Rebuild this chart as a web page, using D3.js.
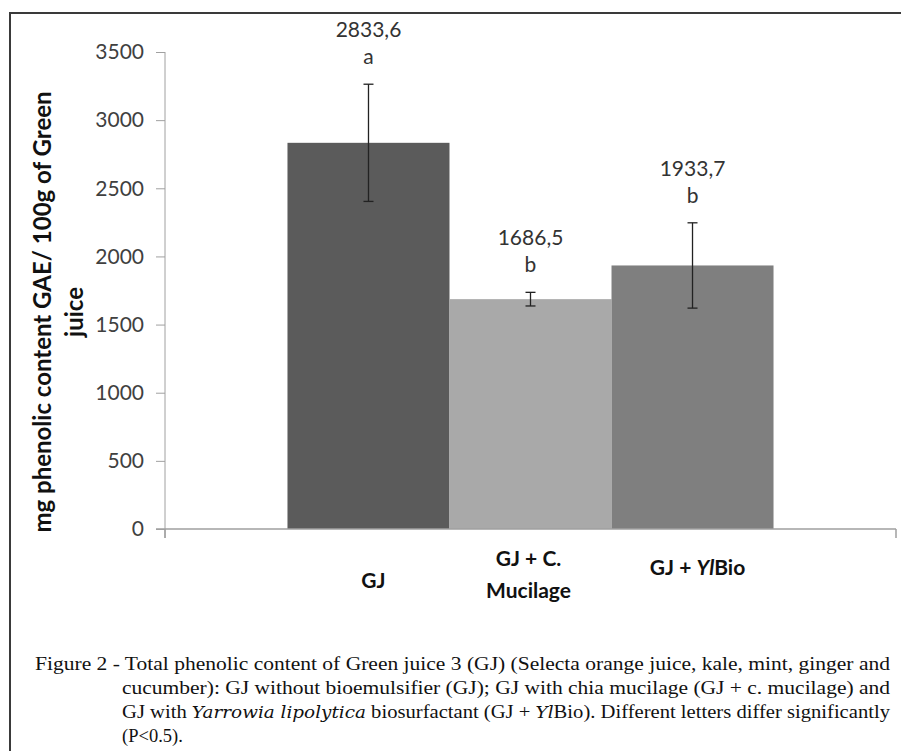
<!DOCTYPE html>
<html>
<head>
<meta charset="utf-8">
<script src="https://cdn.jsdelivr.net/npm/d3@7"></script>
<style>
  body { margin: 0; background: #fff; }
  svg { display: block; }
  .serif { font-family: "Liberation Serif", "Times New Roman", Times, serif; }
  .serif .it { font-family: "DejaVu Serif", "Liberation Serif", serif; font-style: italic; font-size: 16.5px; }
</style>
</head>
<body>
<div id="chart"></div>
<script>
// ---- data ----
const categories = ["GJ", "GJ + C. Mucilage", "GJ + YlBio"]
const values = [2833.6, 1686.5, 1933.7]
const errors = [430, 50, 313]
const letters = ["a", "b", "b"]
const valueLabels = ["2833,6", "1686,5", "1933,7"]
const yTicks = [0, 500, 1000, 1500, 2000, 2500, 3000, 3500]
const barColors = ["#5b5b5b", "#a9a9a9", "#7f7f7f"]

const width = 901, height = 751

const svg = d3.select("#chart")
  .append("svg")
    .attr("width", width)
    .attr("height", height)

// frame (only top and left edges show in the crop)
svg.append("path")
  .attr("d", `M10,751 V13 H901`)
  .attr("fill", "none")
  .attr("stroke", "#3a3a3a")
  .attr("stroke-width", 2)

// scales
const x = d3.scaleBand()
  .domain(categories)
  .range([165, 896])
  .paddingInner(0)
  .paddingOuter(0.756)

const y = d3.scaleLinear()
  .domain([0, 3500])
  .range([529, 52])

// y axis
const yAxis = svg.append("g")
  .attr("transform", "translate(165,0)")
  .call(d3.axisLeft(y).tickValues(yTicks).tickSize(9).tickPadding(12).tickFormat(d3.format("d")))
yAxis.select(".domain").attr("stroke", "#a0a0a0").attr("d", "M0,52V538")
yAxis.selectAll(".tick line").attr("stroke", "#a0a0a0")
yAxis.selectAll(".tick text")
  .attr("fill", "#404040")
  .style("font-family", "Lato, 'Open Sans', sans-serif")
  .style("font-size", "21px")

// bars
svg.selectAll(".bar")
  .data(values)
  .join("rect")
    .attr("class", "bar")
    .attr("x", (d, i) => x(categories[i]))
    .attr("width", x.bandwidth())
    .attr("y", d => y(d))
    .attr("height", d => y(0) - y(d))
    .attr("fill", (d, i) => barColors[i])

// x axis line with end ticks
const x0 = x.range()[0], x1 = x.range()[1]
svg.append("path")
  .attr("d", `M156,${y(0)}H${x1}M${x0},${y(0)}V${y(0) + 9}M${x1},${y(0)}V${y(0) + 9}`)
  .attr("fill", "none")
  .attr("stroke", "#a0a0a0")
  .attr("stroke-width", 1.5)

// error bars
const cx = i => x(categories[i]) + x.bandwidth() / 2
const err = svg.append("g").attr("stroke", "#222").attr("stroke-width", 1.3)
values.forEach((v, i) => {
  const top = y(v + errors[i]), bot = y(v - errors[i])
  err.append("line").attr("x1", cx(i)).attr("x2", cx(i)).attr("y1", top).attr("y2", bot)
  err.append("line").attr("x1", cx(i) - 5).attr("x2", cx(i) + 5).attr("y1", top).attr("y2", top)
  err.append("line").attr("x1", cx(i) - 5).attr("x2", cx(i) + 5).attr("y1", bot).attr("y2", bot)
})

// value + letter labels above error bars
const lab = svg.append("g")
  .attr("text-anchor", "middle")
  .attr("fill", "#333")
  .style("font-family", "Lato, 'Open Sans', sans-serif")
  .style("font-size", "21px")
values.forEach((v, i) => {
  const top = y(v + errors[i])
  lab.append("text").attr("x", cx(i)).attr("y", top - 20).text(letters[i])
  lab.append("text").attr("x", cx(i)).attr("y", top - 47).text(valueLabels[i])
})

// category labels
const catY = [588, 566, 575]
const cat = svg.append("g")
  .attr("text-anchor", "middle")
  .attr("fill", "#111")
  .style("font-family", "Lato, 'Open Sans', sans-serif")
  .style("font-size", "21px")
  .style("font-weight", "bold")
cat.append("text").attr("x", cx(0) + 5).attr("y", catY[0]).text(categories[0])
const t1 = cat.append("text").attr("x", cx(1) - 2).attr("y", catY[1])
t1.append("tspan").attr("x", cx(1) - 2).text("GJ + C.")
t1.append("tspan").attr("x", cx(1) - 2).attr("dy", 32).text("Mucilage")
const t2 = cat.append("text").attr("x", cx(2) + 5).attr("y", catY[2])
t2.append("tspan").text("GJ + ")
t2.append("tspan").style("font-style", "italic").text("Yl")
t2.append("tspan").text("Bio")

// y axis title
const yt = svg.append("text")
  .attr("transform", "translate(51,312) rotate(-90)")
  .attr("text-anchor", "middle")
  .attr("fill", "#111")
  .style("font-family", "Lato, 'Open Sans', sans-serif")
  .style("font-size", "24px")
  .style("font-weight", "bold")
yt.append("tspan").attr("x", 0).attr("y", 0).text("mg phenolic content GAE/ 100g of Green")
yt.append("tspan").attr("x", 0).attr("y", 32).text("juice")

// caption
const cap = svg.append("g")
  .attr("class", "serif")
  .attr("fill", "#111")
  .style("font-size", "18.5px")
const capX = 122
cap.append("text").attr("x", 35).attr("y", 670).attr("textLength", 855).attr("lengthAdjust", "spacingAndGlyphs")
  .text("Figure 2 - Total phenolic content of Green juice 3 (GJ) (Selecta orange juice, kale, mint, ginger and")
cap.append("text").attr("x", capX).attr("y", 694).attr("textLength", 768).attr("lengthAdjust", "spacingAndGlyphs")
  .text("cucumber): GJ without bioemulsifier (GJ); GJ with chia mucilage (GJ + c. mucilage) and")
const l3 = cap.append("text").attr("x", capX).attr("y", 718).attr("textLength", 768).attr("lengthAdjust", "spacingAndGlyphs")
l3.append("tspan").text("GJ with ")
l3.append("tspan").attr("class", "it").text("Yarrowia lipolytica")
l3.append("tspan").text(" biosurfactant (GJ + ")
l3.append("tspan").attr("class", "it").text("Yl")
l3.append("tspan").text("Bio). Different letters differ significantly")
cap.append("text").attr("x", capX).attr("y", 742).text("(P<0.5).")
</script>
</body>
</html>
